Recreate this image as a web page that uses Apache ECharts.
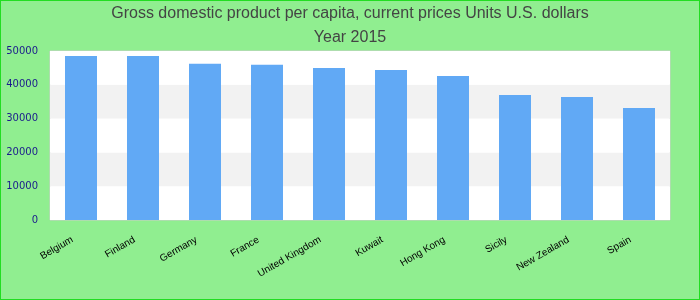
<!DOCTYPE html>
<html><head><meta charset="utf-8">
<script src="https://cdn.jsdelivr.net/npm/echarts@6/dist/echarts.min.js"></script>
<style>
html,body{margin:0;padding:0;}
#wrap{width:700px;height:300px;box-sizing:border-box;border:1px solid #22dd22;background:#90ee90;}
#c{width:698px;height:298px;}
</style></head>
<body><div id="wrap"><div id="c"></div></div>
<script>
const titleLines = ['Gross domestic product per capita, current prices Units U.S. dollars', 'Year 2015'];
const categories = ['Belgium','Finland','Germany','France','United Kingdom','Kuwait','Hong Kong','Sicily','New Zealand','Spain'];
const values = [48500, 48500, 46200, 45900, 45000, 44400, 42600, 37000, 36400, 33100];
const yTicks = [0, 10000, 20000, 30000, 40000, 50000];

const chart = echarts.init(document.getElementById('c'), null, {renderer:'canvas'});
chart.setOption({
  backgroundColor: '#90ee90',
  animation: false,
  title: {
    text: titleLines.join('\n'),
    left: 'center', top: -4,
    textStyle: {fontFamily: 'Liberation Sans, Arial', fontSize: 16, fontWeight: 'normal', color: '#444', lineHeight: 24}
  },
  grid: {left: 49, right: 29, top: 50, bottom: 79, show: true, backgroundColor: '#fff', borderColor: '#ccc', borderWidth: 1, outerBoundsMode: 'none', containLabel: false},
  xAxis: {
    type: 'category', data: categories,
    axisLine: {show: false}, axisTick: {show: false},
    axisLabel: {interval: 0, rotate: 30, fontFamily: 'Liberation Sans, Arial', fontSize: 10, color: '#000', margin: 14, padding: [0, 10, 0, 0]}
  },
  yAxis: {
    type: 'value', min: yTicks[0], max: yTicks[yTicks.length-1], interval: 10000,
    axisLine: {show: false}, axisTick: {show: false},
    splitLine: {show: false},
    splitArea: {show: true, areaStyle: {color: ['#ffffff', '#f2f2f2']}},
    axisLabel: {fontFamily: 'DejaVu Sans', fontSize: 10, color: '#1a1a8c', margin: 12, formatter: v => String(v)}
  },
  series: [{
    type: 'bar', data: values, barWidth: 32,
    itemStyle: {color: '#61a9f5'}
  }]
});
</script></body></html>
